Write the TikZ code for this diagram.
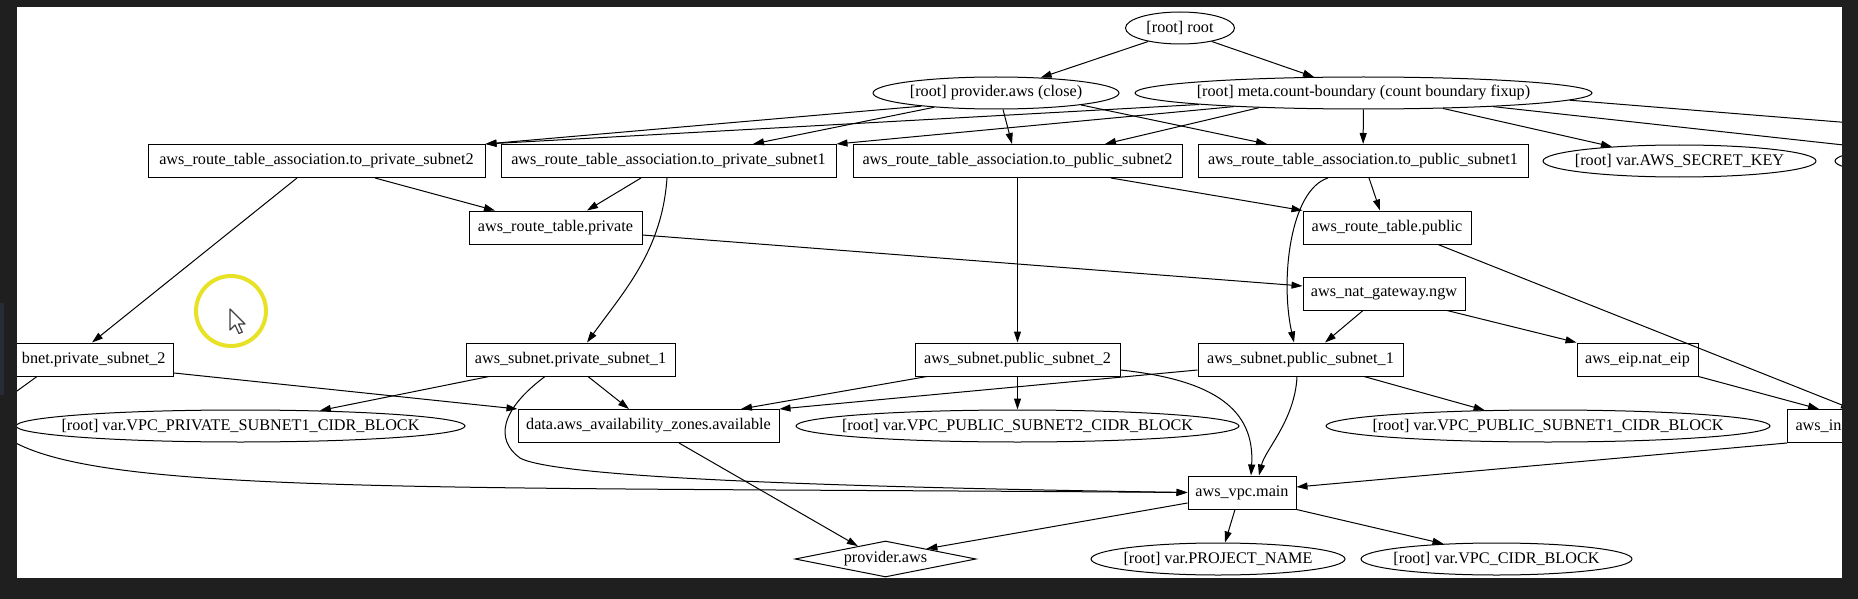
\documentclass[tikz,border=0pt]{standalone}
\usepackage{fontspec}
\setmainfont{Liberation Serif}
\usetikzlibrary{arrows.meta,shapes.geometric}
\definecolor{screen}{RGB}{31,31,31}
\definecolor{sidebar}{RGB}{38,43,54}
\definecolor{clickring}{RGB}{232,226,38}
\newcommand{\LAB}[1]{\makebox[0pt]{#1}}

\begin{document}
\begin{tikzpicture}[x=1pt,y=-1pt,font=\fontsize{16.2}{19}\selectfont,
  resbox/.style={draw,line width=1pt,inner sep=0pt,minimum height=33},
  varell/.style={draw,ellipse,line width=1pt,inner sep=0pt,minimum height=32},
  dep/.style={line width=1pt,-{Triangle[length=11pt,width=7pt]}}]
  \useasboundingbox (0,0) rectangle (1858,599);
  \fill[screen] (0,0) rectangle (1858,599);
  \fill[sidebar] (0,303) rectangle (4,395);
  \fill[white] (17,7) rectangle (1842,578);
  \begin{scope}
  \clip (17,7) rectangle (1842,578);
  \node[varell,minimum width=109] (root) at (1180,28) {\LAB{[root] root}};
  \node[varell,minimum width=246] (pclose) at (996,93) {\LAB{[root] provider.aws (close)}};
  \node[varell,minimum width=457] (meta) at (1363.5,93) {\LAB{[root] meta.count-boundary (count boundary fixup)}};
  \foreach \n/\x/\w/\lab in {rtapriv2/316.5/337/{aws\_route\_table\_association.to\_private\_subnet2},
      rtapriv1/668.5/335/{aws\_route\_table\_association.to\_private\_subnet1},
      rtapub2/1017.5/329/{aws\_route\_table\_association.to\_public\_subnet2},
      rtapub1/1363/330/{aws\_route\_table\_association.to\_public\_subnet1}}
    \node[resbox,minimum width=\w] (\n) at (\x,161) {\lab};
  \node[varell,minimum width=273] (secret) at (1679.5,161) {\LAB{[root] var.AWS\_SECRET\_KEY}};
  \node[varell,minimum width=260] (cutvar) at (1965,161) {};
  \coordinate (offr) at (2100,143);
  \node[resbox,minimum width=173] (rtpriv) at (555.5,227.5) {aws\_route\_table.private};
  \node[resbox,minimum width=168] (rtpub) at (1387,227.5) {aws\_route\_table.public};
  \node[resbox,minimum width=162] (nat) at (1384,293.5) {aws\_nat\_gateway.ngw};
  \node[resbox,inner xsep=8,anchor=east] (snpriv2) at (174,359.5) {bnet.private\_subnet\_2};
  \foreach \n/\x/\w/\lab in {snpriv1/570.5/209/{aws\_subnet.private\_subnet\_1},
      snpub2/1017.5/205/{aws\_subnet.public\_subnet\_2},
      snpub1/1300.5/205/{aws\_subnet.public\_subnet\_1},
      eip/1637.5/121/{aws\_eip.nat\_eip}}
    \node[resbox,minimum width=\w] (\n) at (\x,359.5) {\lab};
  \foreach \n/\x/\w/\lab in {cidrpriv1/240.5/449/{[root] var.VPC\_PRIVATE\_SUBNET1\_CIDR\_BLOCK},
      cidrpub2/1017.5/443/{[root] var.VPC\_PUBLIC\_SUBNET2\_CIDR\_BLOCK},
      cidrpub1/1548/444/{[root] var.VPC\_PUBLIC\_SUBNET1\_CIDR\_BLOCK}}
    \node[varell,minimum width=\w] (\n) at (\x,426) {\LAB{\lab}};
  \node[resbox,minimum width=261] (azs) at (648.5,426) {data.aws\_availability\_zones.available};
  \node[resbox,inner xsep=8,anchor=west] (igw) at (1787,426) {aws\_in};
  \coordinate (offl) at (-30,425);
  \node[resbox,minimum width=108] (vpc) at (1242,492.5) {aws\_vpc.main};
  \node[draw,diamond,line width=1pt,inner sep=0pt,minimum width=181,minimum height=36] (prov) at (885.5,559) {\LAB{provider.aws}};
  \foreach \n/\x/\w/\lab in {projname/1218/254/{[root] var.PROJECT\_NAME},
      vpccidr/1496.5/271/{[root] var.VPC\_CIDR\_BLOCK}}
    \node[varell,minimum width=\w] (\n) at (\x,559) {\LAB{\lab}};

  \draw[dep] (root.203) -- (pclose.19);
  \draw[dep] (root.337) -- (meta.162);
  \draw[dep] (pclose.190) -- (rtapriv2.north east);
  \draw[dep] (pclose.193) -- ([xshift=84.5]rtapriv1.north);
  \draw[dep] ([xshift=7]pclose.south) -- ([xshift=-5.5]rtapub2.north);
  \draw[dep] (pclose.352) -- ([xshift=-96]rtapub1.north);
  \draw[dep] (meta.184) -- (rtapriv2.north east);
  \draw[dep] (meta.186) -- (rtapriv1.north east);
  \draw[dep] (meta.188) -- ([xshift=87.5]rtapub2.north);
  \draw[dep] (meta) -- (rtapub1);
  \draw[dep] (meta.349) -- (secret.168);
  \draw[dep] (meta.354) -- (cutvar.172);
  \draw[dep] (meta.358) -- (offr);

  \draw[dep] ([xshift=58.5]rtapriv2.south) -- ([xshift=-60.5]rtpriv.north);
  \draw[dep] ([xshift=-19.5]rtapriv2.south) -- ([xshift=-82]snpriv2.north east);
  \draw[dep] ([xshift=-27.5]rtapriv1.south) -- ([xshift=31.5]rtpriv.north);
  \draw[dep] ([xshift=-1.5]rtapriv1.south) .. controls (662,250) and (625,290) .. ([xshift=16.5]snpriv1.north);
  \draw[dep] (rtapub2) -- (snpub2);
  \draw[dep] ([xshift=93.5]rtapub2.south) -- (rtpub.north west);
  \draw[dep] ([xshift=6]rtapub1.south) -- ([xshift=-7]rtpub.north);
  \draw[dep] ([xshift=-35]rtapub1.south) .. controls (1290,190) and (1280,280) .. ([xshift=-6.5]snpub1.north);
  \draw[dep] ([yshift=-7.5]rtpriv.east) -- ([yshift=7.5]nat.west);
  \draw[dep] ([xshift=51]rtpub.south) -- ([xshift=65]igw.north west);
  \draw[dep] ([xshift=-21]nat.south) -- ([xshift=24.5]snpub1.north);
  \draw[dep] ([xshift=63]nat.south) -- (eip.north west);
  \draw[dep] (eip.south east) -- ([xshift=32]igw.north west);
  \draw[dep] (igw.south west) -- ([yshift=5.5]vpc.east);

  \draw[dep] ([yshift=-13.5]snpriv2.east) -- (azs.north west);
  \draw[dep] ([xshift=-137]snpriv2.south east) -- (offl);
  \draw[dep] ([xshift=-194]snpriv2.south east) .. controls (-40,500) and (200,485) .. (vpc.west);
  \draw[dep] ([xshift=-81.5]snpriv1.south) -- (cidrpriv1.11);
  \draw[dep] ([xshift=17.5]snpriv1.south) -- ([xshift=-19.5]azs.north);
  \draw[dep] ([xshift=-25.5]snpriv1.south) .. controls (500,410) and (495,440) .. (520,458) .. controls (560,480) and (900,488) .. (vpc.west);
  \draw[dep] ([xshift=-90.5]snpub2.south) -- ([xshift=92.5]azs.north);
  \draw[dep] ([yshift=-10.5]snpub1.west) -- (azs.north east);
  \draw[dep] (snpub2) -- (cidrpub2);
  \draw[dep] ([yshift=-10.5]snpub2.east) .. controls (1215,380) and (1255,410) .. ([xshift=9]vpc.north);
  \draw[dep] ([xshift=-3.5]snpub1.south) .. controls (1295,420) and (1265,450) .. ([xshift=17]vpc.north);
  \draw[dep] ([xshift=63.5]snpub1.south) -- (cidrpub1.166);

  \draw[dep] ([xshift=30.5]azs.south) -- (prov.155);
  \draw[dep] ([yshift=-10.5]vpc.west) -- (prov.14);
  \draw[dep] ([xshift=-7]vpc.south) -- ([xshift=7]projname.north);
  \draw[dep] (vpc.south east) -- (vpccidr.164);
  \end{scope}
  \draw[clickring,line width=4pt] (231,311) circle[radius=35pt];
  \draw[fill=white,draw=black!75,line width=1.2pt,line join=round] (230,309) -- ++(0,21) -- ++(5,-5) -- ++(4,8.5) -- ++(3.3,-1.5) -- ++(-3.8,-8) -- ++(6.5,0) -- cycle;
\end{tikzpicture}
\end{document}
